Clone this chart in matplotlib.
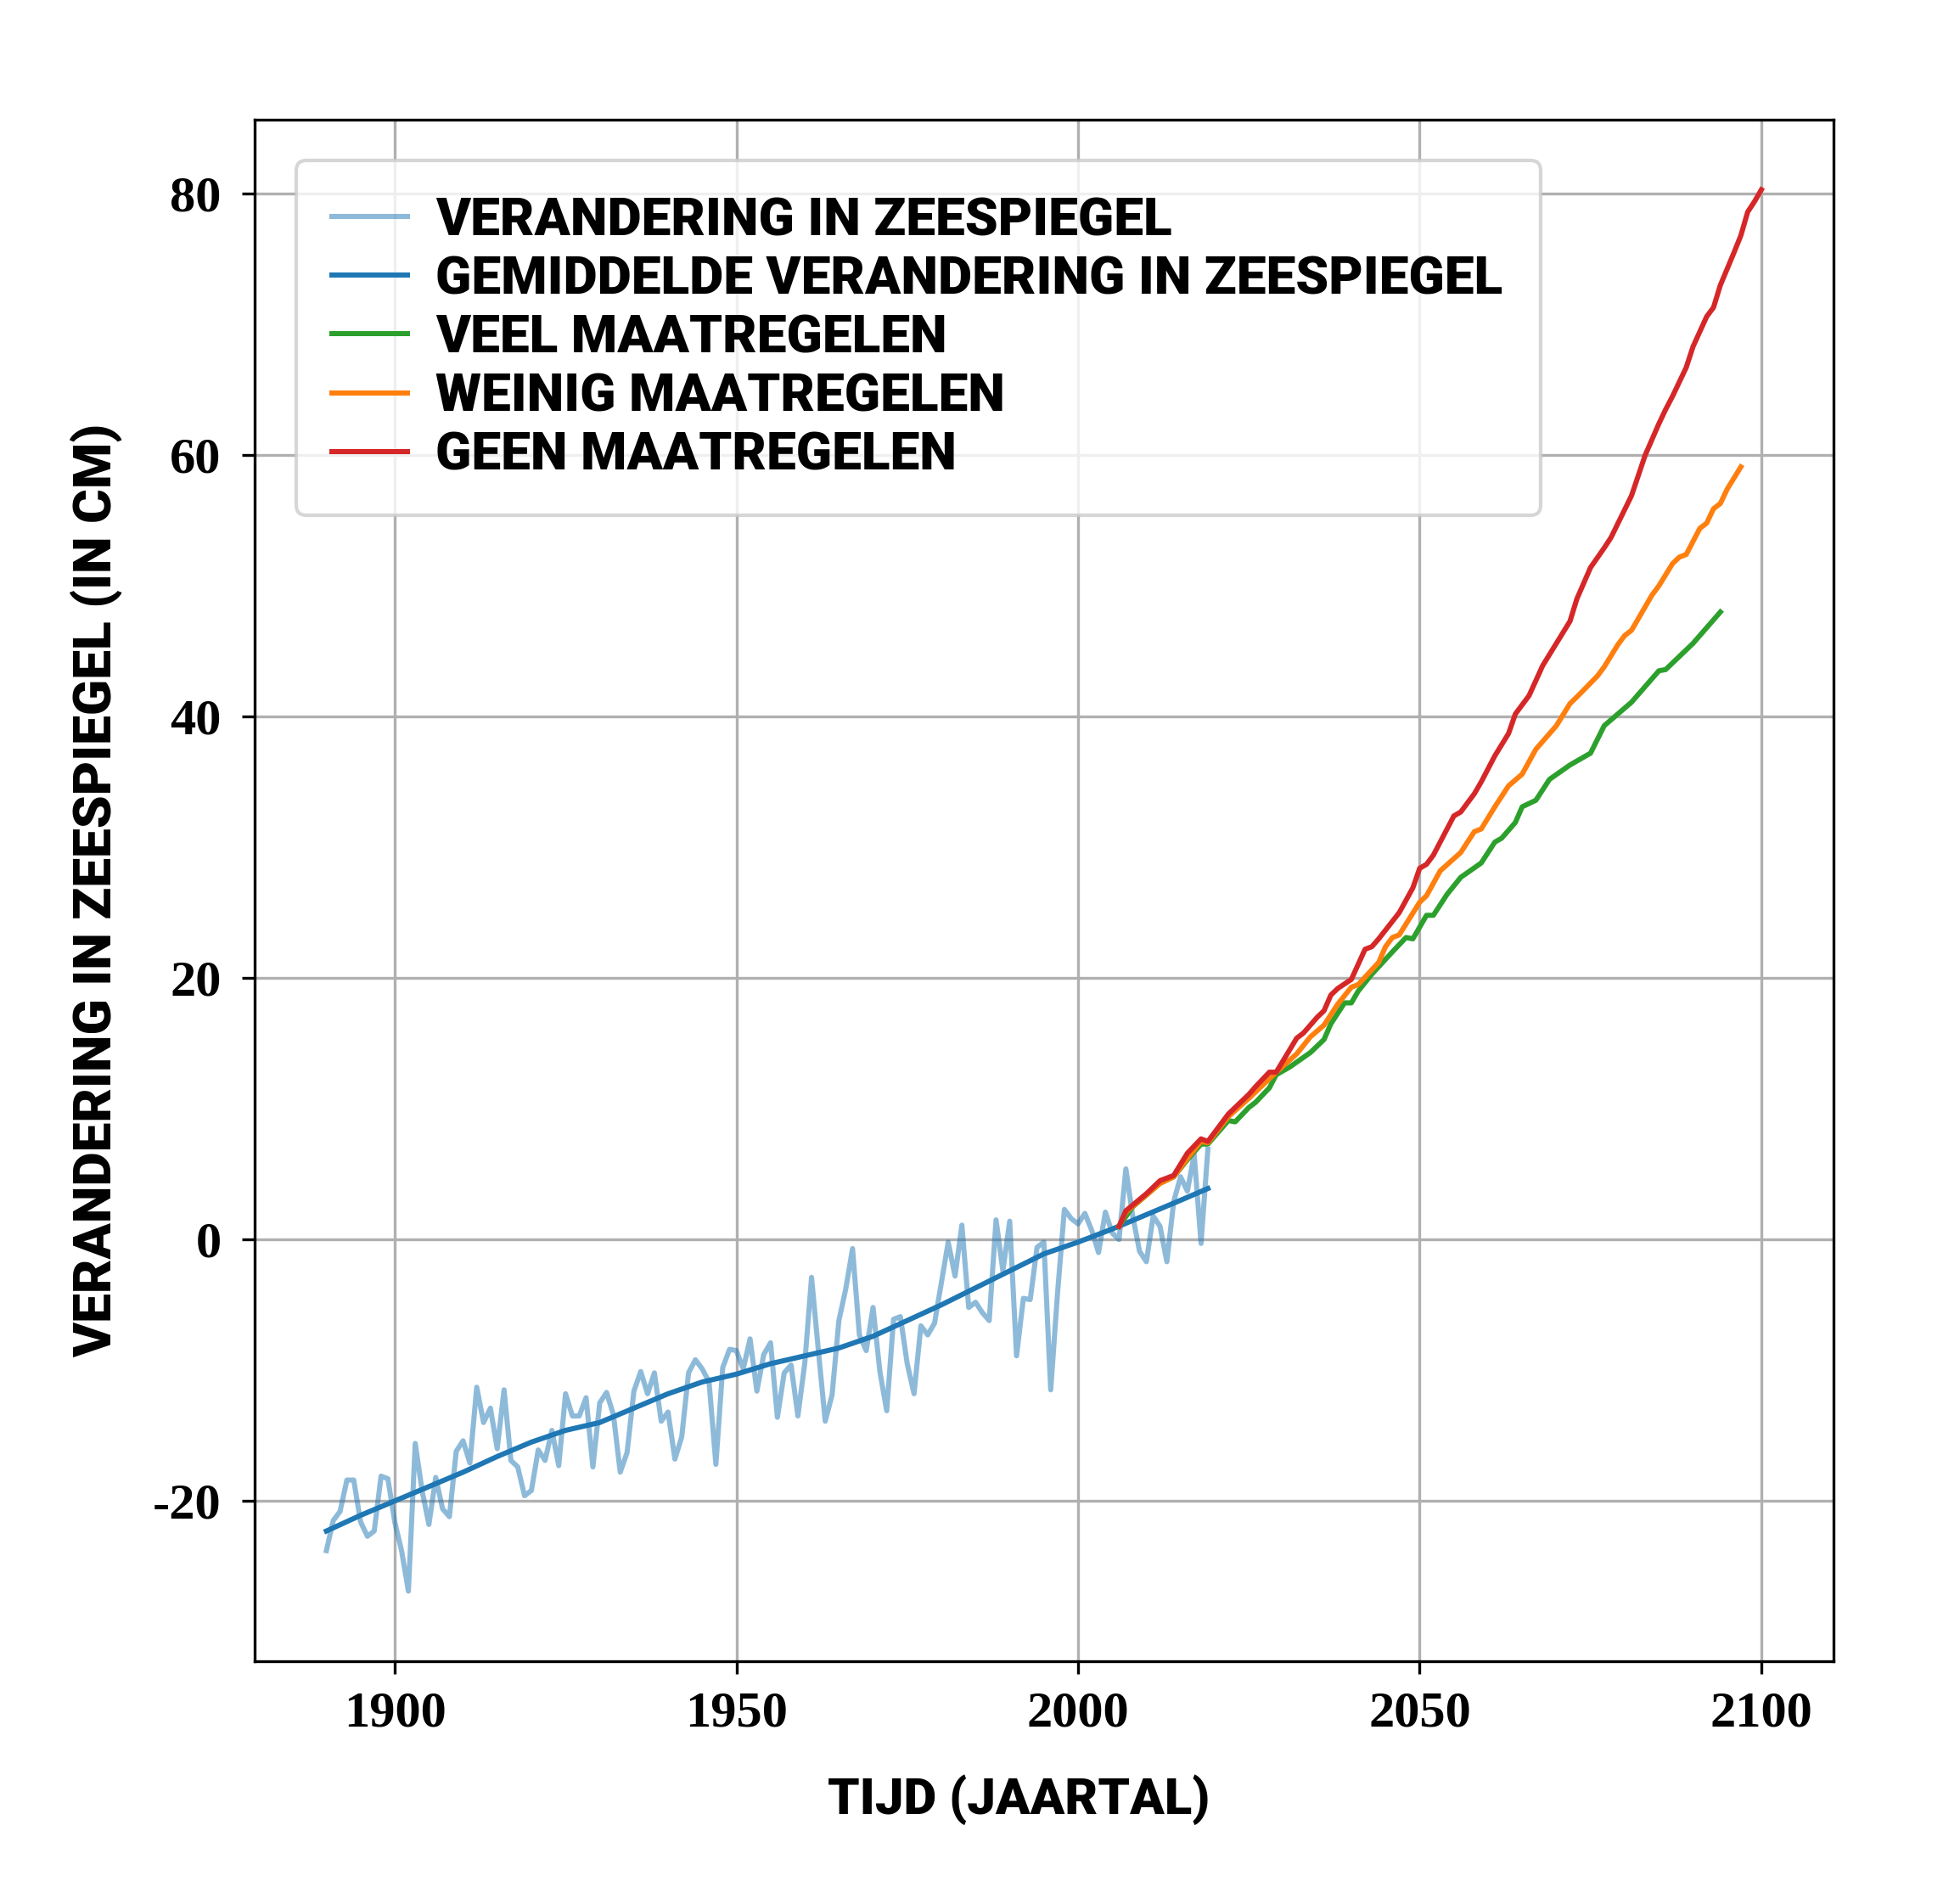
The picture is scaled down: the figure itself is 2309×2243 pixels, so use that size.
import matplotlib
matplotlib.use("Agg")
import matplotlib.pyplot as plt
from matplotlib.lines import Line2D

# ---------------- data ----------------
obs_years = list(range(1890, 2020))
obs_values = [
    -23.8, -21.5, -20.8, -18.4, -18.4, -21.6, -22.7, -22.3, -18.1, -18.3,   # 1890s
    -21.6, -23.8, -26.9, -15.6, -19.2, -21.8, -18.2, -20.6, -21.2, -16.2,   # 1900s
    -15.4, -17.1, -11.3, -14.0, -12.9, -16.0, -11.5, -16.9, -17.4, -19.6,   # 1910s
    -19.2, -16.1, -16.9, -14.6, -17.3, -11.8, -13.5, -13.5, -12.1, -17.4,   # 1920s
    -12.5, -11.7, -13.4, -17.8, -16.3, -11.6, -10.1, -11.8, -10.2, -13.9,   # 1930s
    -13.2, -16.8, -15.1, -10.2, -9.2, -9.9, -10.9, -17.2, -9.8, -8.4,       # 1940s
    -8.5, -9.9, -7.6, -11.6, -8.8, -7.9, -13.6, -10.2, -9.6, -13.5,         # 1950s
    -9.5, -2.9, -8.5, -13.9, -11.9, -6.2, -3.8, -0.7, -7.3, -8.5,           # 1960s
    -5.2, -10.1, -13.1, -6.1, -5.9, -9.5, -11.8, -6.6, -7.3, -6.4,          # 1970s
    -3.3, -0.2, -2.8, 1.1, -5.2, -4.8, -5.6, -6.2, 1.5, -2.4,               # 1980s
    1.4, -8.9, -4.5, -4.6, -0.6, -0.2, -11.5, -4.1, 2.3, 1.6,               # 1990s
    1.2, 2.0, 0.7, -1.0, 2.1, 0.5, 0.0, 5.4, 1.8, -0.9,                     # 2000s
    -1.7, 1.8, 1.0, -1.7, 2.9, 4.8, 3.7, 6.5, -0.3, 6.9,                    # 2010s
]

mean_years = [1890, 1895, 1900, 1905, 1910, 1915, 1920, 1925, 1930, 1935,
              1940, 1945, 1950, 1955, 1960, 1965, 1970, 1975, 1980, 1985,
              1990, 1995, 2000, 2005, 2010, 2015, 2019]
mean_values = [-22.3, -21.1, -20.0, -18.9, -17.8, -16.6, -15.5, -14.6, -14.0, -12.9,
               -11.8, -10.9, -10.3, -9.5, -8.9, -8.3, -7.4, -6.2, -5.0, -3.7,
               -2.4, -1.1, -0.2, 0.8, 1.9, 3.0, 3.9]

veel_years = [2006, 2008, 2010, 2012, 2014, 2016, 2018, 2019, 2022, 2023, 2025, 2026,
              2028, 2029, 2031, 2034, 2036, 2037, 2039, 2040, 2041, 2043, 2046, 2048,
              2049, 2051, 2052, 2054, 2056, 2059, 2061, 2062, 2064, 2065, 2067, 2069,
              2072, 2075, 2077, 2079, 2081, 2084, 2085, 2086, 2088, 2090, 2092, 2094]
veel_values = [1.0, 2.5, 3.4, 4.3, 4.8, 6.1, 7.3, 7.3, 9.1, 9.0, 10.1, 10.5,
               11.6, 12.6, 13.2, 14.3, 15.3, 16.5, 18.1, 18.1, 19.0, 20.3, 22.0, 23.1,
               23.0, 24.8, 24.8, 26.4, 27.7, 28.8, 30.4, 30.7, 31.9, 33.1, 33.6, 35.2,
               36.3, 37.2, 39.3, 40.2, 41.1, 42.9, 43.5, 43.6, 44.6, 45.6, 46.8, 48.0]

weinig_years = [2006, 2007, 2010, 2012, 2014, 2016, 2018, 2019, 2022, 2025, 2027, 2029,
                2032, 2034, 2036, 2038, 2040, 2041, 2044, 2045, 2046, 2047, 2050, 2051,
                2053, 2056, 2058, 2059, 2061, 2063, 2065, 2067, 2070, 2072, 2073, 2076,
                2077, 2079, 2080, 2081, 2082, 2084, 2085, 2087, 2088, 2089, 2091, 2092,
                2093, 2094, 2095, 2097]
weinig_values = [1.0, 2.1, 3.4, 4.3, 4.8, 6.2, 7.5, 7.4, 9.4, 10.8, 11.8, 12.8,
                 14.2, 15.5, 16.4, 18.0, 19.3, 19.5, 21.2, 22.4, 23.1, 23.3, 25.8, 26.3,
                 28.2, 29.6, 31.2, 31.4, 33.1, 34.7, 35.6, 37.5, 39.3, 41.0, 41.5, 43.1,
                 43.8, 45.5, 46.2, 46.6, 47.5, 49.3, 50.0, 51.7, 52.2, 52.4, 54.4, 54.8,
                 55.9, 56.3, 57.4, 59.1]

geen_years = [2006, 2007, 2010, 2012, 2014, 2016, 2018, 2019, 2022, 2025, 2026, 2028,
              2029, 2032, 2033, 2035, 2036, 2037, 2038, 2040, 2042, 2043, 2044, 2047,
              2049, 2050, 2051, 2052, 2055, 2056, 2058, 2059, 2061, 2063, 2064, 2066,
              2068, 2070, 2072, 2073, 2075, 2077, 2078, 2081, 2083, 2085, 2086, 2087,
              2089, 2090, 2092, 2093, 2094, 2096, 2097, 2098, 2099, 2100]
geen_values = [1.0, 2.2, 3.5, 4.5, 4.9, 6.6, 7.7, 7.5, 9.6, 11.1, 11.7, 12.8,
               12.8, 15.4, 15.8, 17.0, 17.5, 18.7, 19.2, 19.9, 22.2, 22.4, 23.0, 25.0,
               26.9, 28.4, 28.7, 29.4, 32.4, 32.7, 34.1, 35.0, 37.0, 38.7, 40.2, 41.6,
               43.9, 45.6, 47.3, 49.0, 51.4, 52.9, 53.7, 56.9, 60.0, 62.4, 63.5, 64.5,
               66.7, 68.3, 70.6, 71.3, 73.0, 75.5, 76.8, 78.6, 79.4, 80.3]

series_labels = [
    "VERANDERING IN ZEESPIEGEL",
    "GEMIDDELDE VERANDERING IN ZEESPIEGEL",
    "VEEL MAATREGELEN",
    "WEINIG MAATREGELEN",
    "GEEN MAATREGELEN",
]
x_label = "TIJD (JAARTAL)"
y_label = "VERANDERING IN ZEESPIEGEL (IN CM)"
xticks = [1900, 1950, 2000, 2050, 2100]
xtick_labels = ["1900", "1950", "2000", "2050", "2100"]
yticks = [-20, 0, 20, 40, 60, 80]
ytick_labels = ["-20", "0", "20", "40", "60", "80"]

# ---------------- styling ----------------
W, H, DPI = 2309, 2243, 300
LABEL_FONT = dict(family=["Roboto", "DejaVu Sans"], weight="black")
TICK_FONT = dict(family=["Liberation Serif", "DejaVu Serif"], weight="bold")

fig = plt.figure(figsize=(W / DPI, H / DPI), dpi=DPI)
renderer = fig.canvas.get_renderer()


def fit_size(text, target_px, font):
    t = fig.text(0, 0, text, fontsize=20, **font)
    w = t.get_window_extent(renderer=renderer).width
    h = t.get_window_extent(renderer=renderer).height
    t.remove()
    fs = 20 * target_px / w
    return fs, h * fs / 20


ax_l, ax_r, ax_t, ax_b = 300, 2159.5, 141, 1957
ax = fig.add_axes([ax_l / W, 1 - ax_b / H, (ax_r - ax_l) / W, (ax_b - ax_t) / H])

LW = 1.45
ax.plot(obs_years, obs_values, color="#1f77b4", alpha=0.5, lw=LW)
ax.plot(mean_years, mean_values, color="#1f77b4", lw=LW)
ax.plot(veel_years, veel_values, color="#2ca02c", lw=LW)
ax.plot(weinig_years, weinig_values, color="#ff7f0e", lw=LW)
ax.plot(geen_years, geen_values, color="#d62728", lw=LW)

ax.grid(True, color="#b0b0b0", lw=0.8)
ax.set_axisbelow(True)

tick_fs, _ = fit_size("1900", 121, TICK_FONT)
ax.set_xticks(xticks)
ax.set_xticklabels(xtick_labels, fontsize=tick_fs, **TICK_FONT)
ax.set_yticks(yticks)
ax.set_yticklabels(ytick_labels, fontsize=tick_fs, **TICK_FONT)
ax.tick_params(axis="y", pad=6)
ax.tick_params(axis="x", pad=5)

xl_fs, _ = fit_size(x_label, 450, LABEL_FONT)
yl_fs, _ = fit_size(y_label, 1100, LABEL_FONT)
ax.set_xlabel(x_label, fontsize=xl_fs, va="center", **LABEL_FONT)
ax.xaxis.set_label_coords((1200 - ax_l) / (ax_r - ax_l), (ax_b - 2120) / (ax_b - ax_t))
ax.set_ylabel(y_label, fontsize=yl_fs, va="center", **LABEL_FONT)
ax.yaxis.set_label_coords((113 - ax_l) / (ax_r - ax_l), 0.5)

# legend
leg_fs, text_h = fit_size(series_labels[1], 1257, LABEL_FONT)
em = leg_fs * DPI / 72
pitch = 70
ls = max(0.0, (pitch - text_h) / em)
handles = [Line2D([], [], color=c, alpha=a, lw=LW) for c, a in
           [("#1f77b4", 0.5), ("#1f77b4", 1), ("#2ca02c", 1), ("#ff7f0e", 1), ("#d62728", 1)]]
lx0 = (349 - ax_l) / (ax_r - ax_l)
ly1 = (ax_b - 189) / (ax_b - ax_t)
lw_frac = (1815 - 349) / (ax_r - ax_l)
leg = ax.legend(handles, series_labels, loc="upper left",
                bbox_to_anchor=(lx0, ly1 - 0.3, lw_frac, 0.3), mode="expand",
                borderaxespad=0, prop=dict(size=leg_fs, **LABEL_FONT),
                handlelength=89 / em, handletextpad=33 / em,
                borderpad=42 / em, labelspacing=ls)

fig.savefig("out.png", dpi=DPI)
